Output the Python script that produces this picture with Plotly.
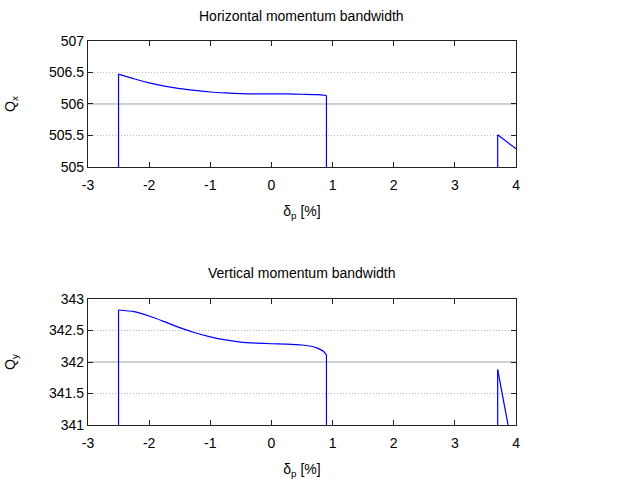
import plotly.graph_objects as go

# Horizontal tune vs momentum offset: stable islands (curve samples)
qx_dp_a = [-2.5, -2.25, -2.0, -1.75, -1.5, -1.25, -1.0, -0.75, -0.5, -0.25, 0.0, 0.25, 0.5, 0.75, 0.9]
qx_a = [506.475, 506.40, 506.335, 506.285, 506.245, 506.215, 506.19, 506.175, 506.165, 506.16, 506.16, 506.16, 506.155, 506.15, 506.135]
qx_dp_b = [3.7, 4.0]
qx_b = [505.51, 505.29]

# Vertical tune vs momentum offset
qy_dp_a = [-2.5, -2.25, -2.0, -1.75, -1.5, -1.25, -1.0, -0.75, -0.5, -0.25, 0.0, 0.25, 0.5, 0.65, 0.75, 0.85, 0.9]
qy_a = [342.825, 342.80, 342.73, 342.64, 342.545, 342.465, 342.40, 342.35, 342.315, 342.30, 342.29, 342.285, 342.27, 342.25, 342.22, 342.17, 342.115]
qy_dp_b = [3.7, 3.87]
qy_b = [341.88, 341.0]

x_ticks = [-3, -2, -1, 0, 1, 2, 3, 4]
qx_ticks = [505, 505.5, 506, 506.5, 507]
qy_ticks = [341, 341.5, 342, 342.5, 343]

FONT = "Liberation Sans, Arial, sans-serif"
BLUE = "#0000ff"

fig = go.Figure()


def add_island(xs, ys, floor, xa, ya, drop_end=True):
    # smooth curve
    fig.add_trace(go.Scatter(x=xs, y=ys, mode="lines", xaxis=xa, yaxis=ya,
                             line=dict(color=BLUE, width=1.2, shape="spline", smoothing=0.6),
                             showlegend=False))
    # vertical edges down to the axis floor
    vx = [xs[0], xs[0]]
    vy = [floor, ys[0]]
    if drop_end:
        vx += [None, xs[-1], xs[-1]]
        vy += [None, ys[-1], floor]
    fig.add_trace(go.Scatter(x=vx, y=vy, mode="lines", xaxis=xa, yaxis=ya,
                             line=dict(color=BLUE, width=1.2), showlegend=False))


add_island(qx_dp_a, qx_a, qx_ticks[0], "x", "y")
add_island(qx_dp_b, qx_b, qx_ticks[0], "x", "y", drop_end=False)
add_island(qy_dp_a, qy_a, qy_ticks[0], "x2", "y2")
add_island(qy_dp_b, qy_b, qy_ticks[0], "x2", "y2", drop_end=False)

axis_common = dict(showgrid=False, zeroline=False, showline=True, linecolor="#222222",
                   linewidth=1.2, mirror="ticks", ticks="inside", ticklen=5,
                   tickcolor="#222222", automargin=False,
                   tickfont=dict(family=FONT, size=14, color="black"))

fig.update_layout(
    template="none",
    width=620, height=479,
    margin=dict(l=0, r=0, t=0, b=0),
    plot_bgcolor="white", paper_bgcolor="white",
    font=dict(family=FONT, color="black"),
    xaxis=dict(domain=[0.1419, 0.8323], anchor="y", range=[-3, 4], tickvals=x_ticks,
               ticktext=[str(v) for v in x_ticks], ticklabelstandoff=5,
               title=dict(text="δ<sub>p</sub> [%]", font=dict(size=14), standoff=14), **axis_common),
    yaxis=dict(domain=[0.6514, 0.9144], anchor="x", range=[505, 507], tickvals=qx_ticks,
               ticktext=["505", "505.5", "506", "506.5", "507"],
               title=dict(text="Q<sub>x</sub>", font=dict(size=14), standoff=30), **axis_common),
    xaxis2=dict(domain=[0.1419, 0.8323], anchor="y2", range=[-3, 4], tickvals=x_ticks,
                ticktext=[str(v) for v in x_ticks], ticklabelstandoff=5,
                title=dict(text="δ<sub>p</sub> [%]", font=dict(size=14), standoff=14), **axis_common),
    yaxis2=dict(domain=[0.1127, 0.3758], anchor="x2", range=[341, 343], tickvals=qy_ticks,
                ticktext=["341", "341.5", "342", "342.5", "343"],
                title=dict(text="Q<sub>y</sub>", font=dict(size=14), standoff=30), **axis_common),
)

shapes = []
for yref, vals in [("y", qx_ticks), ("y2", qy_ticks)]:
    xref = "x domain" if yref == "y" else "x2 domain"
    for i, v in enumerate(vals[1:-1]):
        solid = (i == 1)
        shapes.append(dict(type="line", xref=xref, yref=yref, x0=0, x1=1, y0=v, y1=v,
                           layer="below",
                           line=dict(color="#a0a0a0" if solid else "#b8b8b8",
                                     width=1, dash="solid" if solid else "1px,2px")))
fig.update_layout(shapes=shapes)

fig.add_annotation(text="Horizontal momentum bandwidth", xref="paper", yref="paper",
                   x=0.487, y=1 - 16 / 479, yanchor="middle", showarrow=False,
                   font=dict(size=14, family=FONT))
fig.add_annotation(text="Vertical momentum bandwidth", xref="paper", yref="paper",
                   x=0.487, y=1 - 273 / 479, yanchor="middle", showarrow=False,
                   font=dict(size=14, family=FONT))

fig.write_html("out.html")
